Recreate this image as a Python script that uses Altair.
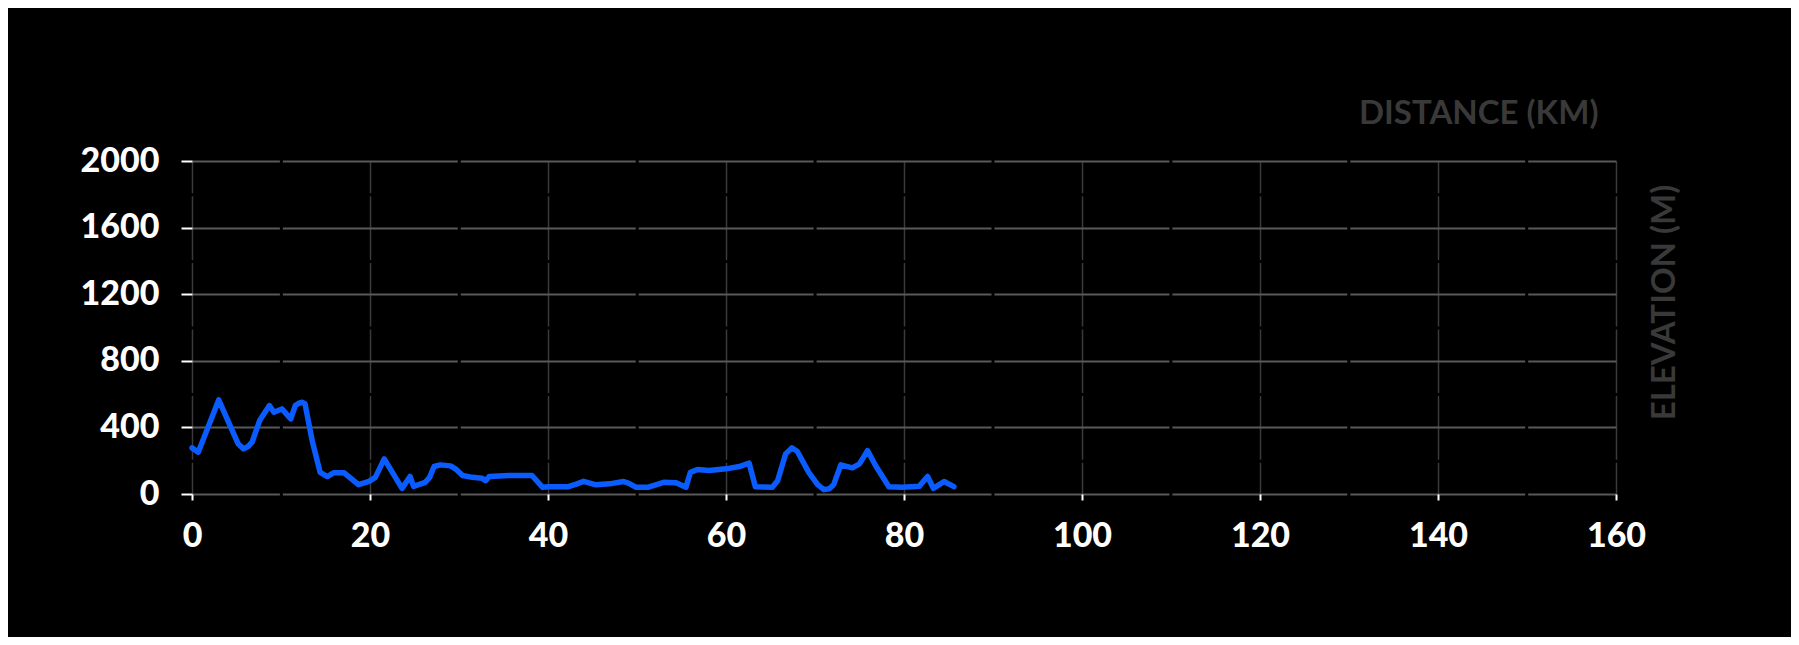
import altair as alt
import pandas as pd

# Distance along the route (km) and elevation (m)
distance_km = [0.0, 0.7, 3.0, 5.2, 5.8, 6.3, 6.75, 7.6, 8.7, 9.2, 10.1, 11.1, 11.6, 12.0, 12.4, 12.7,
               13.5, 14.4, 15.2, 15.9, 17.1, 18.7, 19.9, 20.6, 21.6, 23.6, 24.5, 24.9,
               26.2, 26.7, 27.2, 27.9, 29.05, 29.6, 30.4, 31.5, 32.6, 33.0, 33.4, 35.6,
               38.2, 39.4, 40.1, 42.3, 43.1, 44.0, 45.4, 46.9, 48.5, 49.1, 49.9, 51.2,
               53.0, 54.4, 55.5, 56.0, 56.8, 58.1, 60.0, 61.5, 62.6, 63.3, 65.2, 65.8,
               66.7, 67.4, 68.0, 69.3, 70.3, 71.0, 71.6, 72.1, 72.9, 74.2, 75.0, 75.9, 76.8,
               78.3, 79.8, 81.7, 82.65, 83.3, 84.5, 85.6]
elevation_m = [277, 251, 565, 300, 271, 285, 311, 441, 531, 491, 511, 451, 531, 545, 551, 541,
               321, 130, 105, 127, 127, 56, 76, 100, 211, 34, 105, 46,
               70, 100, 165, 175, 169, 151, 111, 100, 94, 80, 105, 111,
               111, 40, 44, 44, 58, 76, 55, 61, 75, 64, 40, 40,
               70, 67, 40, 130, 147, 141, 151, 165, 185, 44, 40, 80,
               241, 277, 257, 130, 56, 26, 32, 56, 175, 157, 181, 261, 171,
               44, 40, 46, 105, 34, 75, 44]

x_ticks = [0, 20, 40, 60, 80, 100, 120, 140, 160]
y_ticks = [0, 400, 800, 1200, 1600, 2000]

df = pd.DataFrame({"distance": distance_km, "elevation": elevation_m})

W, H = 1424, 333
FONT = "Lato"

chart = (
    alt.Chart(df)
    .mark_line(color="#0a5cff", strokeWidth=5.5, strokeCap="round",
               strokeJoin="round")
    .encode(
        x=alt.X(
            "distance:Q",
            scale=alt.Scale(domain=[0, 160], nice=False, zero=False),
            axis=alt.Axis(
                values=x_ticks,
                format="d",
                labelFlush=False,
                title="DISTANCE (KM)",
                titleX=W - 18,
                titleY=-371,
                titleAlign="right",
                titleAnchor="end",
                titleBaseline="alphabetic",
                titleAngle=0,
                titleFont=FONT,
                titleFontSize=33,
                titleFontWeight="bold",
                titleColor="#393939",
                labelFont=FONT,
                labelFontSize=34,
                labelFontWeight=900,
                labelColor="#ffffff",
                labelPadding=19,
                tickColor="#ffffff",
                tickSize=6,
                tickWidth=2,
                domain=False,
                grid=True,
                gridColor="#3a3a3a",
                gridWidth=1.5,
                gridDash=[63.6, 3],
                gridDashOffset=31.8,
            ),
        ),
        y=alt.Y(
            "elevation:Q",
            scale=alt.Scale(domain=[0, 2000], nice=False),
            axis=alt.Axis(
                values=y_ticks,
                format="d",
                labelFlush=False,
                title="ELEVATION (M)",
                titleX=W + 48,
                titleY=141,
                titleAngle=270,
                titleAlign="center",
                titleAnchor="middle",
                titleBaseline="middle",
                titleFont=FONT,
                titleFontSize=33,
                titleFontWeight="bold",
                titleColor="#393939",
                labelFont=FONT,
                labelFontSize=34,
                labelFontWeight=900,
                labelColor="#ffffff",
                labelPadding=22,
                tickColor="#ffffff",
                tickSize=11,
                tickWidth=2,
                domain=False,
                grid=True,
                gridColor="#595959",
                gridWidth=2,
                gridDash=[174.9, 3],
                gridDashOffset=87.5,
            ),
        ),
    )
    .properties(
        width=W,
        height=H,
        background="#000000",
        padding={"left": 184, "top": 153, "right": 175, "bottom": 143},
        autosize=alt.AutoSizeParams(type="none"),
    )
    .configure_view(stroke=None)
    .configure_axis(titleLimit=0)
)

chart.save("out.html", embed_options={"renderer": "svg", "actions": False})
